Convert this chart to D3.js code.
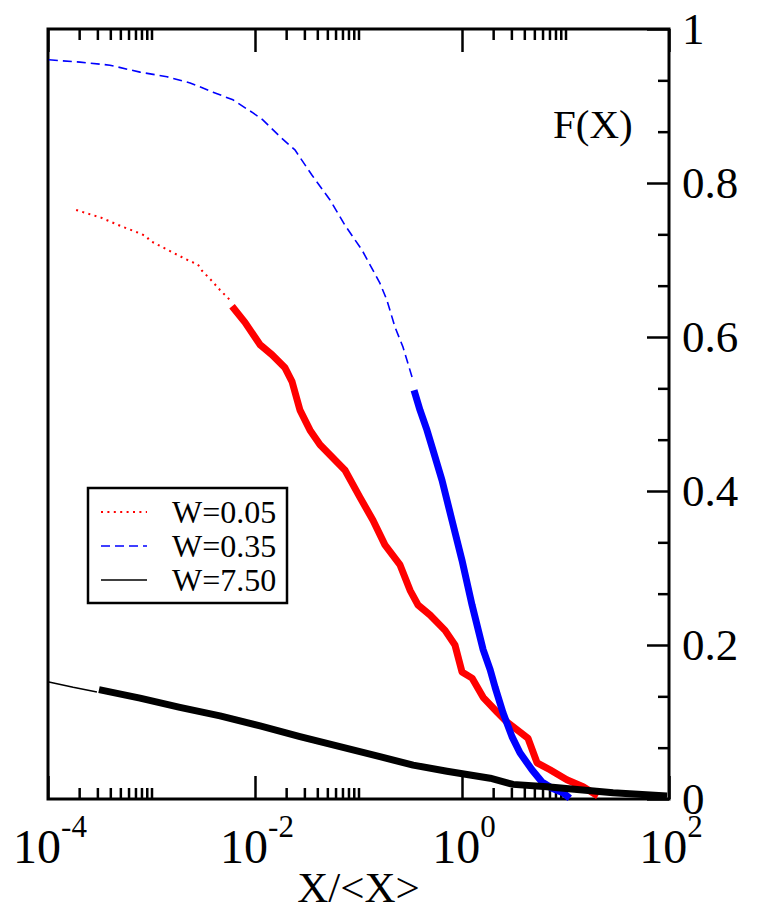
<!DOCTYPE html>
<html>
<head>
<meta charset="utf-8">
<script src="https://cdn.jsdelivr.net/npm/d3@7"></script>
<style>
  body { margin: 0; background: #fff; }
</style>
</head>
<body>
<div id="chart"></div>
<script>
// 1: GLOBAL VARIABLES
const W = 760, H = 908;
const margin = { top: 29, right: 91, bottom: 109, left: 48 };
const width = W - margin.left - margin.right;
const height = H - margin.top - margin.bottom;
const serif = "Liberation Serif";

// DATA -- x is X/<X>, f is F(X)
// W=0.05 (red): binned part (dotted) and raw part (thick)
const redThinX = [1.87e-4, 3.25e-4, 5.07e-4, 7.57e-4, 8.85e-4, 9.68e-4, 1.44e-3, 2.15e-3, 2.81e-3, 3.08e-3, 3.76e-3, 4.59e-3, 5.73e-3];
const redThinF = [0.765, 0.755, 0.744, 0.735, 0.731, 0.725, 0.713, 0.701, 0.694, 0.686, 0.674, 0.661, 0.648];
const redThickX = [6.0e-3, 8.0e-3, 0.0112, 0.0146, 0.0195, 0.0228, 0.0272, 0.034, 0.0425, 0.0741, 0.103, 0.138, 0.18, 0.252, 0.315, 0.376, 0.491, 0.686, 0.855, 1.0, 1.25, 1.6, 2.18, 2.72, 3.4, 4.34, 5.31, 7.08, 10.3, 14.8, 20.6];
const redThickF = [0.640, 0.619, 0.590, 0.577, 0.560, 0.542, 0.505, 0.479, 0.460, 0.427, 0.392, 0.362, 0.330, 0.304, 0.271, 0.252, 0.239, 0.219, 0.200, 0.165, 0.157, 0.132, 0.113, 0.100, 0.090, 0.079, 0.047, 0.038, 0.025, 0.016, 0.004];

// W=0.35 (blue)
const blueThinX = [1.02e-4, 2.04e-4, 3.97e-4, 7.74e-4, 1.41e-3, 2.36e-3, 3.93e-3, 6.12e-3, 9.57e-3, 0.0119, 0.0175, 0.0243, 0.0356, 0.0531, 0.0741, 0.108, 0.161, 0.188, 0.225, 0.269, 0.329];
const blueThinF = [0.960, 0.957, 0.953, 0.944, 0.938, 0.930, 0.918, 0.908, 0.891, 0.882, 0.860, 0.843, 0.810, 0.778, 0.745, 0.713, 0.670, 0.648, 0.613, 0.587, 0.548];
const blueThickX = [0.344, 0.393, 0.459, 0.525, 0.641, 0.8, 1.0, 1.25, 1.6, 1.87, 2.09, 2.49, 3.04, 3.63, 4.74, 5.93, 7.41, 9.46, 11.0];
const blueThickF = [0.531, 0.505, 0.479, 0.453, 0.414, 0.362, 0.310, 0.252, 0.194, 0.168, 0.145, 0.112, 0.081, 0.060, 0.038, 0.022, 0.014, 0.008, 0.001];

// W=7.50 (black)
const blackThinX = [1.02e-4, 1.75e-4, 2.97e-4];
const blackThinF = [0.152, 0.145, 0.139];
const blackThickX = [3.11e-4, 7.74e-4, 1.88e-3, 4.59e-3, 0.0112, 0.0272, 0.0662, 0.161, 0.337, 0.716, 1.87, 3.11, 6.62, 13.8, 28.8, 95.7];
const blackThickF = [0.142, 0.131, 0.119, 0.108, 0.095, 0.081, 0.068, 0.055, 0.044, 0.036, 0.027, 0.019, 0.016, 0.012, 0.008, 0.004];

const legendLabels = ["W=0.05", "W=0.35", "W=7.50"];
const xMajor = [1e-4, 1e-2, 1, 1e2];
const xExp = ["-4", "-2", "0", "2"];
const yMajor = [0, 0.2, 0.4, 0.6, 0.8, 1];
const yMinor = [1, 2, 4, 5, 7, 8, 10, 11, 13, 14].map(k => k / 15);

const zip = (xs, fs) => xs.map((x, i) => ({ x: x, f: fs[i] }));

// 2: SVG
const svg = d3.select("#chart").append("svg")
    .attr("width", W)
    .attr("height", H);
const g = svg.append("g")
    .attr("transform", `translate(${margin.left},${margin.top})`);

// 3: SCALES
const x = d3.scaleLog().domain([1e-4, 1e2]).range([0, width]);
const y = d3.scaleLinear().domain([0, 1]).range([height, 0]);

// minor x ticks: 2..10 times each major (every second decade)
const xMinor = [];
[1e-4, 1e-2, 1].forEach(m => { for (let k = 2; k <= 10; k++) xMinor.push(k * m); });

// 4: AXES (ticks point inward)
function styleAxis(sel) {
    sel.select(".domain").remove();
    sel.selectAll("line").attr("stroke", "#000").attr("stroke-width", 2.5);
}
g.append("g").attr("transform", `translate(0,${height})`)
    .call(d3.axisBottom(x).tickValues(xMajor).tickSize(-23).tickFormat(""))
    .call(styleAxis);
g.append("g").attr("transform", `translate(0,${height})`)
    .call(d3.axisBottom(x).tickValues(xMinor).tickSize(-11).tickFormat(""))
    .call(styleAxis);
g.append("g")
    .call(d3.axisTop(x).tickValues(xMajor).tickSize(-23).tickFormat(""))
    .call(styleAxis);
g.append("g")
    .call(d3.axisTop(x).tickValues(xMinor).tickSize(-11).tickFormat(""))
    .call(styleAxis);

const yAx = g.append("g").attr("transform", `translate(${width},0)`)
    .call(d3.axisRight(y).tickValues(yMajor).tickSize(-22).tickPadding(13).tickFormat(d3.format("")))
    .call(styleAxis);
yAx.selectAll("text")
    .style("font-family", serif)
    .style("font-size", "45px")
    .attr("fill", "#000");
g.append("g").attr("transform", `translate(${width},0)`)
    .call(d3.axisRight(y).tickValues(yMinor).tickSize(-11).tickFormat(""))
    .call(styleAxis);

// x tick labels with superscripts
xMajor.forEach((v, i) => {
    const t = g.append("text")
        .attr("x", x(v) + 2)
        .attr("y", height + 64)
        .attr("text-anchor", "middle")
        .style("font-family", serif)
        .style("font-size", "48px");
    t.append("tspan").text("10");
    t.append("tspan").attr("dy", -26).style("font-size", "31px").text(xExp[i]);
});

// frame
g.append("rect")
    .attr("width", width)
    .attr("height", height)
    .attr("fill", "none")
    .attr("stroke", "#000")
    .attr("stroke-width", 3);

// 5: LINES
const line = d3.line().x(d => x(d.x)).y(d => y(d.f));

const series = [
    { thin: zip(redThinX, redThinF), thick: zip(redThickX, redThickF), color: "#ff0000", dash: "2,4.4", w: 2 },
    { thin: zip(blueThinX, blueThinF), thick: zip(blueThickX, blueThickF), color: "#0000ff", dash: "9,5", w: 1.6 },
    { thin: zip(blackThinX, blackThinF), thick: zip(blackThickX, blackThickF), color: "#000000", dash: null, w: 1.5 }
];

series.forEach(s => {
    g.append("path")
        .datum(s.thin)
        .attr("d", line)
        .attr("fill", "none")
        .attr("stroke", s.color)
        .attr("stroke-width", s.w)
        .attr("stroke-dasharray", s.dash);
    g.append("path")
        .datum(s.thick)
        .attr("d", line)
        .attr("fill", "none")
        .attr("stroke", s.color)
        .attr("stroke-width", 7)
        .attr("stroke-linejoin", "round");
});

// 6: LABELS
g.append("text")
    .attr("x", width / 2)
    .attr("y", height + 103)
    .attr("text-anchor", "middle")
    .style("font-family", serif)
    .style("font-size", "43px")
    .text("X/<X>");

g.append("text")
    .attr("x", 505)
    .attr("y", 109)
    .style("font-family", serif)
    .style("font-size", "41px")
    .text("F(X)");

// LEGEND
const legend = g.append("g").attr("transform", "translate(40,459)");
legend.append("rect")
    .attr("width", 199)
    .attr("height", 115)
    .attr("fill", "#fff")
    .attr("stroke", "#000")
    .attr("stroke-width", 2.5);
series.forEach((s, i) => {
    const row = legend.append("g").attr("transform", `translate(0,${24 + i * 34})`);
    row.append("line")
        .attr("x1", 13).attr("x2", 59)
        .attr("stroke", s.color)
        .attr("stroke-width", s.w)
        .attr("stroke-dasharray", s.dash);
    row.append("text")
        .attr("x", 84)
        .attr("y", 11)
        .style("font-family", serif)
        .style("font-size", "32px")
        .text(legendLabels[i]);
});
</script>
</body>
</html>
